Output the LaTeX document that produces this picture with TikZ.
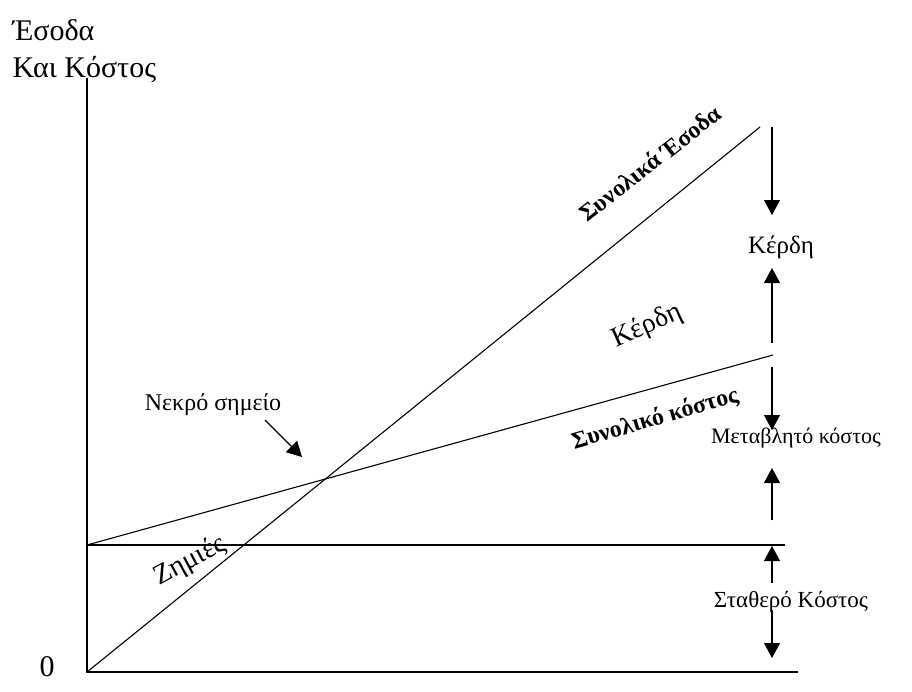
\documentclass[tikz,border=0pt]{standalone}
\usepackage{fontspec}
\setmainfont{Liberation Serif}
\usetikzlibrary{arrows.meta}

\begin{document}
\begin{tikzpicture}[x=1pt,y=-1pt,line width=1.1pt,
    arr/.style={-{Triangle[length=15pt,width=16pt]}},
    lab/.style={font=\fontsize{23}{26}\selectfont,inner sep=0pt},
    biglab/.style={font=\fontsize{28}{30}\selectfont,inner sep=0pt},
    boldlab/.style={font=\fontsize{24}{26}\selectfont\bfseries,inner sep=0pt},
    axlab/.style={font=\fontsize{30}{32}\selectfont,inner sep=0pt,anchor=west}]
        \useasboundingbox (0,0) rectangle (912,691);
        % Axes
        \coordinate (O) at (87,672);
        \coordinate (ytop) at (87,78);
        \coordinate (xend) at (798,672);
        \draw (ytop) -- (O) -- (xend);
        \node[axlab] (esoda) at (12,30) {Έσοδα};
        \node[axlab] (kostos) at (12,70) {Και Κόστος};
        \node[axlab] (zero) at (39,667) {0};
        % Fixed cost, total cost, total revenue
        \coordinate (F0) at (87,545);
        \coordinate (Fend) at (785,545);
        \coordinate (Cend) at (773,355);
        \coordinate (Rend) at (760,127);
        \draw (F0) -- (Fend);
        \draw (F0) -- (Cend);
        \draw (O) -- (Rend);
        % Labels along the lines
        \node[boldlab,rotate=38] (rev) at (650,163) {Συνολικά Έσοδα};
        \node[biglab,rotate=24] (profit) at (647,326) {Κέρδη};
        \node[boldlab,rotate=16] (cost) at (655,419) {Συνολικό κόστος};
        \node[biglab,rotate=28] (loss) at (190,561) {Ζημιές};
        % Break-even point
        \node[lab,font=\fontsize{24}{26}\selectfont] (bep) at (213,405) {Νεκρό σημείο};
        \coordinate (bepA) at (265,420);
        \coordinate (bepB) at (302,457);
        \draw[arr] (bepA) -- (bepB);
        % Right hand scale
        \node[lab,font=\fontsize{25}{28}\selectfont] (kerdi) at (781,247) {Κέρδη};
        \node[lab,font=\fontsize{22}{26}\selectfont] (metab) at (796,438) {Μεταβλητό κόστος};
        \node[lab] (stath) at (791,602) {Σταθερό Κόστος};
        \coordinate (p1) at (772,127); \coordinate (q1) at (772,215);
        \coordinate (p2) at (772,343); \coordinate (q2) at (772,268);
        \coordinate (p3) at (772,367); \coordinate (q3) at (772,430);
        \coordinate (p4) at (772,520); \coordinate (q4) at (772,468);
        \coordinate (p5) at (772,583); \coordinate (q5) at (772,546);
        \coordinate (p6) at (772,610); \coordinate (q6) at (772,658);
        \foreach \i in {1,...,6}
            \draw[arr] (p\i) -- (q\i);
\end{tikzpicture}
\end{document}
